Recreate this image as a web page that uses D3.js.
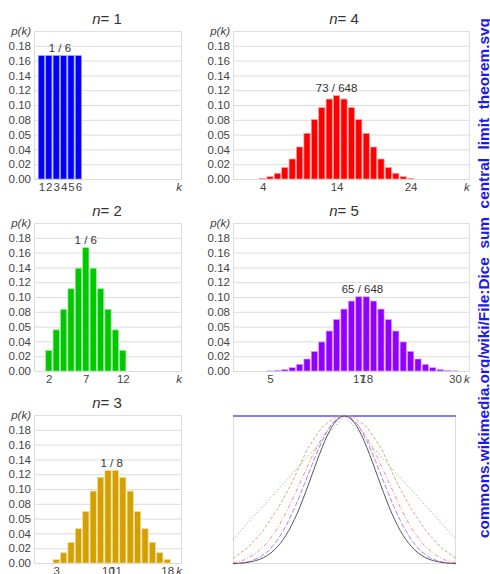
<!DOCTYPE html>
<html>
<head>
<meta charset="utf-8">
<script src="https://cdnjs.cloudflare.com/ajax/libs/d3/7.8.5/d3.min.js"></script>
<style>
  body { margin: 0; background: #fff; }
  svg { display: block; font-family: "Liberation Sans", Arial, sans-serif; }
</style>
</head>
<body>
<script>
// number of ways to roll each sum k (k = n .. 6n) with n dice
let counts1 = [1, 1, 1, 1, 1, 1];
let counts2 = [1, 2, 3, 4, 5, 6, 5, 4, 3, 2, 1];
let counts3 = [1, 3, 6, 10, 15, 21, 25, 27, 27, 25, 21, 15, 10, 6, 3, 1];
let counts4 = [1, 4, 10, 20, 35, 56, 80, 104, 125, 140, 146, 140, 125, 104, 80, 56, 35, 20, 10, 4, 1];
let counts5 = [1, 5, 15, 35, 70, 126, 205, 305, 420, 540, 651, 735, 780, 780, 735, 651, 540, 420, 305, 205, 126, 70, 35, 15, 5, 1];
let diceCounts = [counts1, counts2, counts3, counts4, counts5];

let peakLabels = ["1 / 6", "1 / 6", "1 / 8", "73 / 648", "65 / 648"];
let xTicks = [[1, 2, 3, 4, 5, 6], [2, 7, 12], [3, 10, 11, 18], [4, 14, 24], [5, 17, 18, 30]];
let yTickValues = [0, 0.02, 0.04, 0.06, 0.08, 0.1, 0.12, 0.14, 0.16, 0.18];
let yTickLabels = ["0.00", "0.02", "0.04", "0.05", "0.08", "0.10", "0.12", "0.14", "0.16", "0.18"];
let barColors = ["#0000ff", "#00c800", "#d4a000", "#ff0000", "#9000ff"];

// limit curve (normal) at x = 0, 0.05, ... 1
let normalCurve = [0.003, 0.008, 0.022, 0.054, 0.118, 0.226, 0.386, 0.586, 0.788, 0.942, 1,
  0.942, 0.788, 0.586, 0.386, 0.226, 0.118, 0.054, 0.022, 0.008, 0.003];
let curveColors = ["#8080ff", "#80d080", "#d8a878", "#ff8888", "#a880ff"];
let curveDash = [null, "1.5,2", "3,2", "4,2,1,2", "5,2"];

let width = 490;
let height = 574;
let plotH = 148;
let rowTop = [31, 223, 415];
let colLeft = [34, 233];
let colMax = [20, 32];
let colTitleX = [107, 344];
let unit = 7.4;

let svg = d3.select("body").append("svg")
  .attr("width", width)
  .attr("height", height);

let panels = [
  { n: 1, col: 0, row: 0 },
  { n: 2, col: 0, row: 1 },
  { n: 3, col: 0, row: 2 },
  { n: 4, col: 1, row: 0 },
  { n: 5, col: 1, row: 1 },
];

panels.forEach((p) => {
  let counts = diceCounts[p.n - 1];
  let total = d3.sum(counts);
  let data = counts.map((c, i) => ({ k: p.n + i, v: c / total }));
  let left = colLeft[p.col];
  let top = rowTop[p.row];
  let w = colMax[p.col] * unit;
  let color = barColors[p.n - 1];

  let x = d3.scaleLinear().domain([0, colMax[p.col]]).range([left, left + w]);
  let y = d3.scaleLinear().domain([0, 0.2]).range([top + plotH, top]);

  // frame
  svg.append("rect")
    .attr("x", left + 0.5).attr("y", top + 0.5)
    .attr("width", w - 1).attr("height", plotH)
    .attr("fill", "none").attr("stroke", "#dcdcdc");

  let gy = svg.append("g")
    .attr("transform", `translate(${left},0)`)
    .call(d3.axisLeft(y)
      .tickValues(yTickValues)
      .tickSize(-w)
      .tickPadding(3)
      .tickFormat((d, i) => yTickLabels[i]));
  gy.select(".domain").remove();
  gy.selectAll("line").attr("stroke", "#dcdcdc");
  gy.selectAll("text").attr("fill", "#444").attr("font-size", "11.5px")
    .attr("font-family", "Liberation Sans, Arial, sans-serif");

  svg.selectAll(null)
    .data(data)
    .enter()
    .append("rect")
    .attr("x", (d) => x(d.k - 0.5) + 0.6)
    .attr("width", unit - 1.2)
    .attr("y", (d) => y(d.v))
    .attr("height", (d) => y(0) - y(d.v))
    .attr("fill", color)
    .attr("stroke", d3.interpolateRgb(color, "#fff")(0.6))
    .attr("stroke-width", 0.7);

  let gx = svg.append("g")
    .attr("transform", `translate(0,${top + plotH})`)
    .call(d3.axisBottom(x).tickValues(xTicks[p.n - 1]).tickSize(0).tickPadding(4).tickFormat(d3.format("d")));
  gx.select(".domain").remove();
  gx.selectAll("text").attr("fill", "#444").attr("font-size", "11.5px")
    .attr("font-family", "Liberation Sans, Arial, sans-serif");

  // peak value label
  let maxV = d3.max(data, (d) => d.v);
  let peakK = d3.mean(data.filter((d) => d.v === maxV), (d) => d.k);
  svg.append("text")
    .attr("x", x(peakK)).attr("y", y(maxV) - 4)
    .attr("text-anchor", "middle")
    .attr("font-size", "11.5px").attr("fill", "#333")
    .text(peakLabels[p.n - 1]);

  // axis names
  svg.append("text")
    .attr("x", left - 3).attr("y", top + 4)
    .attr("text-anchor", "end")
    .attr("font-size", "11.5px").attr("font-style", "italic").attr("fill", "#444")
    .text("p(k)");
  svg.append("text")
    .attr("x", left + w).attr("y", top + plotH + 12)
    .attr("text-anchor", "end")
    .attr("font-size", "11.5px").attr("font-style", "italic").attr("fill", "#444")
    .text("k");

  let title = svg.append("text")
    .attr("x", colTitleX[p.col]).attr("y", top - 7)
    .attr("text-anchor", "middle")
    .attr("font-size", "15px").attr("fill", "#333");
  title.append("tspan").attr("font-style", "italic").text("n");
  title.append("tspan").text("= " + p.n);
});

// normalised shapes compared with the limit curve
let cx = d3.scaleLinear().domain([0, 1]).range([233, 456]);
let cy = d3.scaleLinear().domain([0, 1]).range([564, 416]);

svg.append("rect")
  .attr("x", 233.5).attr("y", 416.5)
  .attr("width", 222).attr("height", 147)
  .attr("fill", "none").attr("stroke", "#dcdcdc");

let line = d3.line().x((d) => cx(d[0])).y((d) => cy(d[1]));

diceCounts.forEach((counts, i) => {
  let n = i + 1;
  let maxC = d3.max(counts);
  let pts = counts.map((c, j) => [j / (5 * n), c / maxC]);
  svg.append("path")
    .attr("d", line(pts))
    .attr("fill", "none")
    .attr("stroke", curveColors[i])
    .attr("stroke-width", n === 1 ? 2 : 1)
    .attr("stroke-dasharray", curveDash[i]);
});

svg.append("path")
  .attr("d", line.curve(d3.curveNatural)(normalCurve.map((v, j) => [j / (normalCurve.length - 1), v])))
  .attr("fill", "none")
  .attr("stroke", "#555")
  .attr("stroke-width", 1);

// source note along the right edge
svg.append("text")
  .attr("transform", "translate(489,538) rotate(-90)")
  .attr("font-size", "14px")
  .attr("font-weight", "bold")
  .attr("fill", "#1a1aee")
  .attr("textLength", 520)
  .attr("lengthAdjust", "spacingAndGlyphs")
  .text("commons.wikimedia.org/wiki/File:Dice_sum_central_limit_theorem.svg");
</script>
</body>
</html>
